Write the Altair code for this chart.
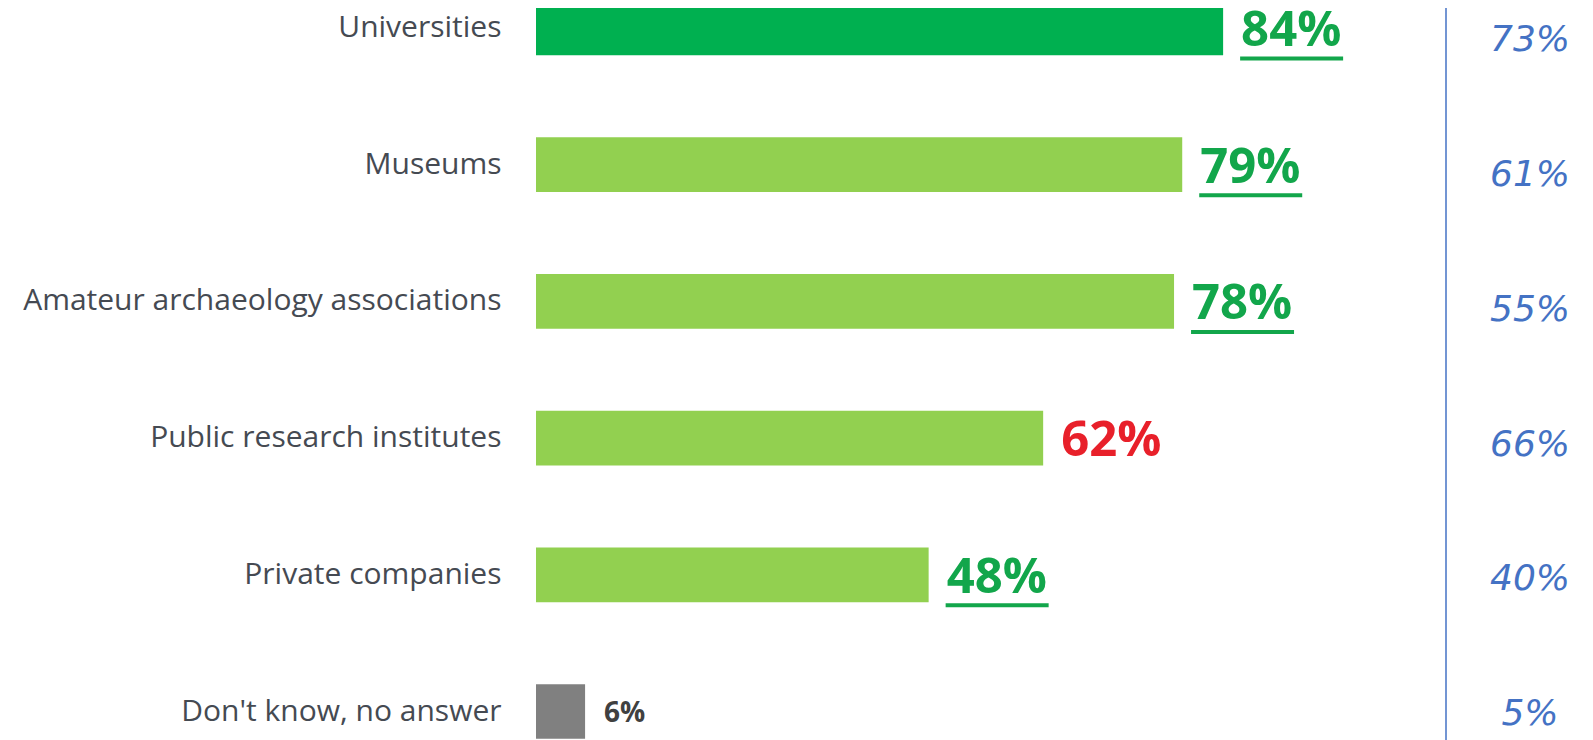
import altair as alt
import pandas as pd

# ---- data ----
categories = [
    "Universities",
    "Museums",
    "Amateur archaeology associations",
    "Public research institutes",
    "Private companies",
    "Don't know, no answer",
]
values = [84, 79, 78, 62, 48, 6]
previous = [73, 61, 55, 66, 40, 5]
underlined = ["Universities", "Museums", "Amateur archaeology associations", "Private companies"]
small_labels = ["Don't know, no answer"]

# ---- styles ----
bar_palette = ["#00B050", "#92D050", "#92D050", "#92D050", "#92D050", "#808080"]
label_palette = ["#12A64B", "#12A64B", "#12A64B", "#E8202A", "#12A64B", "#404040"]

df = pd.DataFrame({
    "category": categories,
    "value": values,
    "previous": previous,
})
df["label"] = df["value"].astype(str) + "%"
df["prev_label"] = df["previous"].astype(str) + "%"

W, H = 1049, 732

y_main = alt.Scale(type="band", domain=categories, range=[-34.7, 758.2], paddingInner=0.6, paddingOuter=0.2)
y_right = alt.Scale(type="band", domain=categories, range=[-24.4, 756.9], paddingInner=0.6, paddingOuter=0.2)
x_scale = alt.Scale(domain=[0, 100], range=[0, 818])
label_colors = alt.Scale(domain=categories, range=label_palette)

base = alt.Chart(df)

bars = base.mark_bar().encode(
    y=alt.Y("category:N", scale=y_main, sort=categories,
            axis=alt.Axis(title=None, domain=False, ticks=False, grid=False,
                          labelFont="Open Sans", labelFontSize=30, labelColor="#454A52",
                          labelPadding=35, labelLimit=0)),
    x=alt.X("value:Q", scale=x_scale, axis=None),
    color=alt.Color("category:N", scale=alt.Scale(domain=categories, range=bar_palette), legend=None),
)

labels_big = base.transform_filter(
    ~alt.FieldOneOfPredicate(field="category", oneOf=small_labels)
).mark_text(align="left", baseline="middle", dx=18, dy=3, font="Open Sans",
            fontWeight="bold", fontSize=49).encode(
    y=alt.Y("category:N", scale=y_main, sort=categories),
    x=alt.X("value:Q", scale=x_scale),
    text="label:N",
    color=alt.Color("category:N", scale=label_colors, legend=None),
)

labels_small = base.transform_filter(
    alt.FieldOneOfPredicate(field="category", oneOf=small_labels)
).mark_text(align="left", baseline="middle", dx=19, dy=2, font="Open Sans",
            fontWeight="bold", fontSize=28).encode(
    y=alt.Y("category:N", scale=y_main, sort=categories),
    x=alt.X("value:Q", scale=x_scale),
    text="label:N",
    color=alt.Color("category:N", scale=label_colors, legend=None),
)

underline = base.transform_filter(
    alt.FieldOneOfPredicate(field="category", oneOf=underlined)
).mark_rule(color="#12A64B", strokeWidth=4, xOffset=17, x2Offset=120, yOffset=30.5).encode(
    y=alt.Y("category:N", scale=y_main, sort=categories),
    x=alt.X("value:Q", scale=x_scale),
    x2="value:Q",
)

main = alt.layer(bars, underline, labels_big, labels_small).resolve_scale(color="independent")

right_text = base.mark_text(align="center", baseline="middle", dy=3, font="DejaVu Sans",
                            fontStyle="italic", fontSize=36, color="#4472C4").encode(
    y=alt.Y("category:N", scale=y_right, sort=categories, axis=None),
    x=alt.value(994),
    text="prev_label:N",
)

divider = alt.Chart(pd.DataFrame({"k": [0]})).mark_rule(color="#4472C4", strokeWidth=1.5).encode(
    x=alt.value(910),
    y=alt.value(-20),
    y2=alt.value(H + 20),
)

side = alt.layer(divider, right_text)

chart = alt.layer(main, side).resolve_scale(
    y="independent", color="independent"
).properties(
    width=W,
    height=H,
    padding={"left": 528, "top": 0, "right": 0, "bottom": 0},
    autosize=alt.AutoSizeParams(type="none"),
).configure_view(stroke=None)

chart.save("out.html", embed_options={"renderer": "svg", "actions": False})
